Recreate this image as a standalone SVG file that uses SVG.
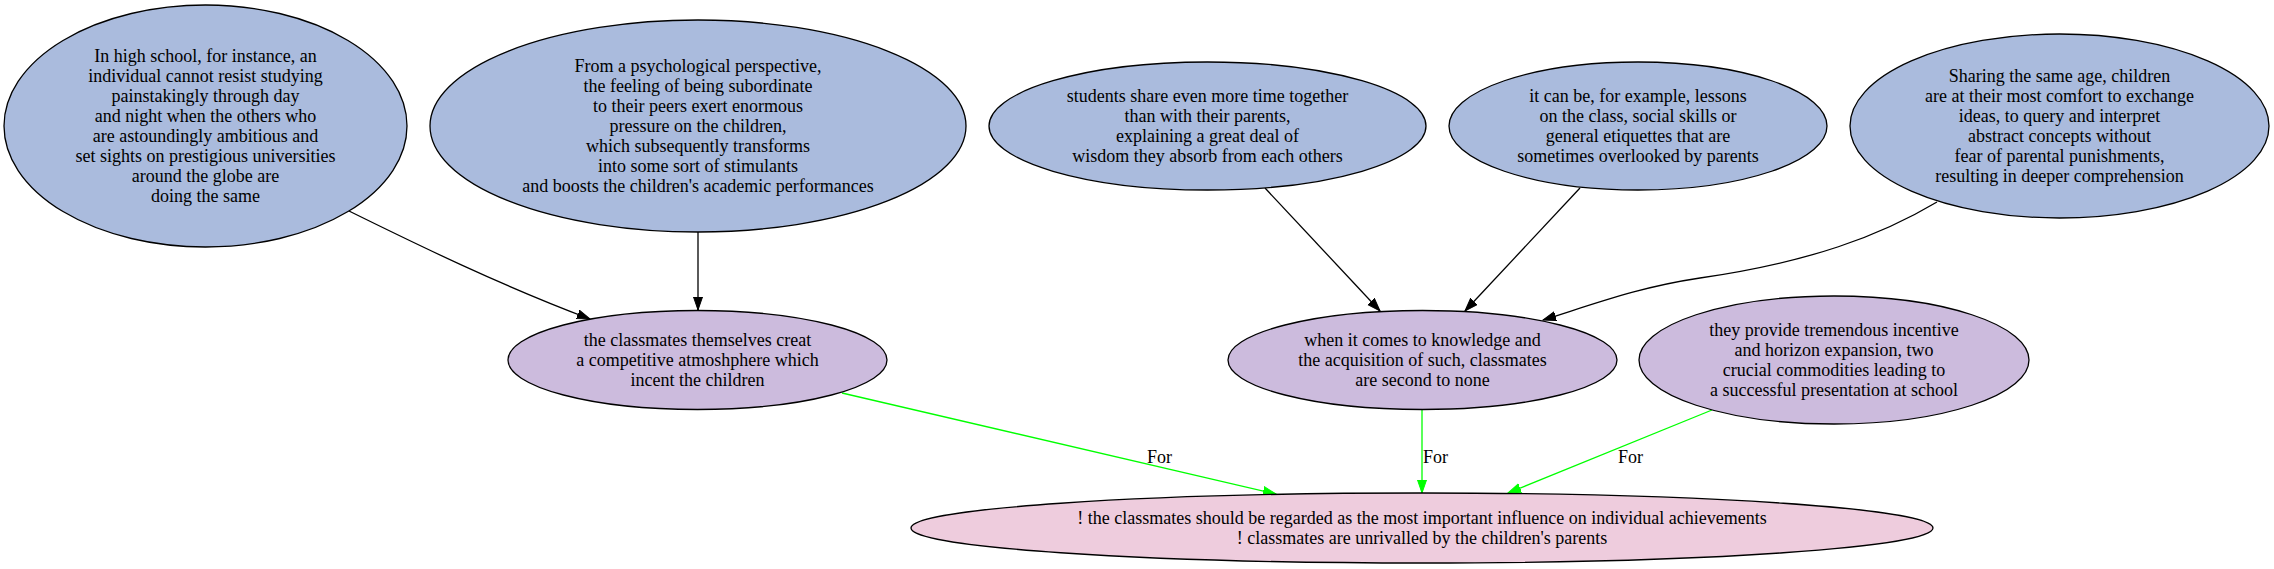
<svg xmlns="http://www.w3.org/2000/svg" width="2274" height="569" viewBox="0 0 2274 569">
<style>
  text { font-family: "Liberation Serif", "Times New Roman", serif; font-size: 18px; fill: #000; }
  .c { text-anchor: middle; }
  .node ellipse { stroke: #000; stroke-width: 1.3; }
  .top ellipse { fill: #aabbdd; }
  .mid ellipse { fill: #ccbbdd; }
  .bot ellipse { fill: #eeccdd; }
  .e { fill: none; stroke-width: 1.3; }
  .blk { stroke: #000; marker-end: url(#ab); }
  .grn { stroke: #00ff00; marker-end: url(#ag); }
</style>
<defs>
  <marker id="ab" markerUnits="userSpaceOnUse" markerWidth="15" markerHeight="11" refX="13" refY="5" orient="auto">
    <path d="M0,0.5 L13,5 L0,9.5 z" fill="#000" stroke="#000" stroke-width="1"/>
  </marker>
  <marker id="ag" markerUnits="userSpaceOnUse" markerWidth="15" markerHeight="11" refX="13" refY="5" orient="auto">
    <path d="M0,0.5 L13,5 L0,9.5 z" fill="#00ff00" stroke="#00ff00" stroke-width="1"/>
  </marker>
</defs>
<rect width="2274" height="569" fill="#fff"/>

<g id="edges">
  <path class="e blk" d="M349,211 C420,246 500,285 590,319"/>
  <path class="e blk" d="M698,232 L698,310"/>
  <path class="e blk" d="M1265,188 L1380,311"/>
  <path class="e blk" d="M1580,188 L1465,311"/>
  <path class="e blk" d="M1937,202 C1880,236 1810,262 1700,278 C1640,287 1600,302 1543,320"/>
  <path class="e grn" d="M842,393 L1276,494"/>
  <path class="e grn" d="M1422,409.5 L1422,493"/>
  <path class="e grn" d="M1712,410 L1508,493"/>
  <text x="1147" y="463">For</text>
  <text x="1423" y="463">For</text>
  <text x="1618" y="463">For</text>
</g>

<g id="n1" class="node top">
  <ellipse cx="205.5" cy="126" rx="201.5" ry="121"/>
  <text class="c" x="205.5" y="61.5">In high school, for instance, an</text>
  <text class="c" x="205.5" y="81.5">individual cannot resist studying</text>
  <text class="c" x="205.5" y="101.5">painstakingly through day</text>
  <text class="c" x="205.5" y="121.5">and night when the others who</text>
  <text class="c" x="205.5" y="141.5">are astoundingly ambitious and</text>
  <text class="c" x="205.5" y="161.5">set sights on prestigious universities</text>
  <text class="c" x="205.5" y="181.5">around the globe are</text>
  <text class="c" x="205.5" y="201.5">doing the same</text>
</g>

<g id="n2" class="node top">
  <ellipse cx="698" cy="126" rx="268" ry="106"/>
  <text class="c" x="698" y="71.5">From a psychological perspective,</text>
  <text class="c" x="698" y="91.5">the feeling of being subordinate</text>
  <text class="c" x="698" y="111.5">to their peers exert enormous</text>
  <text class="c" x="698" y="131.5">pressure on the children,</text>
  <text class="c" x="698" y="151.5">which subsequently transforms</text>
  <text class="c" x="698" y="171.5">into some sort of stimulants</text>
  <text class="c" x="698" y="191.5">and boosts the children's academic performances</text>
</g>

<g id="n3" class="node top">
  <ellipse cx="1207.5" cy="126" rx="218.5" ry="64"/>
  <text class="c" x="1207.5" y="101.5">students share even more time together</text>
  <text class="c" x="1207.5" y="121.5">than with their parents,</text>
  <text class="c" x="1207.5" y="141.5">explaining a great deal of</text>
  <text class="c" x="1207.5" y="161.5">wisdom they absorb from each others</text>
</g>

<g id="n4" class="node top">
  <ellipse cx="1638" cy="126" rx="189" ry="64"/>
  <text class="c" x="1638" y="101.5">it can be, for example, lessons</text>
  <text class="c" x="1638" y="121.5">on the class, social skills or</text>
  <text class="c" x="1638" y="141.5">general etiquettes that are</text>
  <text class="c" x="1638" y="161.5">sometimes overlooked by parents</text>
</g>

<g id="n5" class="node top">
  <ellipse cx="2059.5" cy="126" rx="209.5" ry="92"/>
  <text class="c" x="2059.5" y="81.5">Sharing the same age, children</text>
  <text class="c" x="2059.5" y="101.5">are at their most comfort to exchange</text>
  <text class="c" x="2059.5" y="121.5">ideas, to query and interpret</text>
  <text class="c" x="2059.5" y="141.5">abstract concepts without</text>
  <text class="c" x="2059.5" y="161.5">fear of parental punishments,</text>
  <text class="c" x="2059.5" y="181.5">resulting in deeper comprehension</text>
</g>

<g id="m1" class="node mid">
  <ellipse cx="697.5" cy="360" rx="189.5" ry="49.5"/>
  <text class="c" x="697.5" y="345.5">the classmates themselves creat</text>
  <text class="c" x="697.5" y="365.5">a competitive atmoshphere which</text>
  <text class="c" x="697.5" y="385.5">incent the children</text>
</g>

<g id="m2" class="node mid">
  <ellipse cx="1422.5" cy="360" rx="194.5" ry="49.5"/>
  <text class="c" x="1422.5" y="345.5">when it comes to knowledge and</text>
  <text class="c" x="1422.5" y="365.5">the acquisition of such, classmates</text>
  <text class="c" x="1422.5" y="385.5">are second to none</text>
</g>

<g id="m3" class="node mid">
  <ellipse cx="1834" cy="360" rx="195" ry="64"/>
  <text class="c" x="1834" y="335.5">they provide tremendous incentive</text>
  <text class="c" x="1834" y="355.5">and horizon expansion, two</text>
  <text class="c" x="1834" y="375.5">crucial commodities leading to</text>
  <text class="c" x="1834" y="395.5">a successful presentation at school</text>
</g>

<g id="b1" class="node bot">
  <ellipse cx="1422" cy="528" rx="511" ry="35"/>
  <text class="c" x="1422" y="523.5">! the classmates should be regarded as the most important influence on individual achievements</text>
  <text class="c" x="1422" y="543.5">! classmates are unrivalled by the children's parents</text>
</g>
</svg>
